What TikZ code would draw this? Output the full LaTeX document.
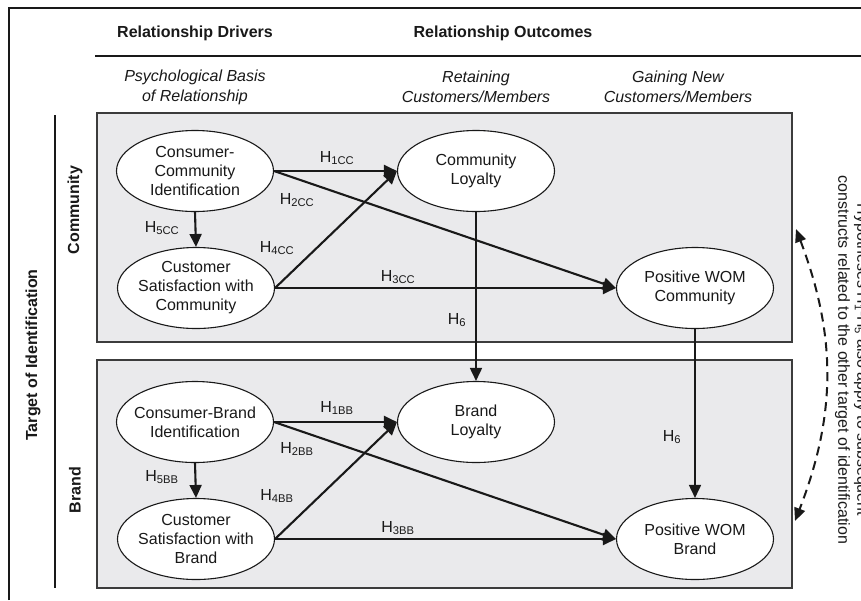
\documentclass[tikz,border=0pt]{standalone}
\usepackage{fontspec}
\setmainfont{Liberation Sans}
\usetikzlibrary{arrows.meta,shapes.geometric}
\definecolor{boxgray}{RGB}{234,234,236}
\definecolor{ink}{RGB}{25,25,25}
\begin{document}
\begin{tikzpicture}[x=1pt,y=-1pt,
  txt/.style={font=\fontsize{16}{19}\selectfont, inner sep=0pt, text=ink},
  head/.style={font=\fontsize{16}{19}\selectfont\bfseries, inner sep=0pt, text=ink},
  colhead/.style={font=\fontsize{16}{20}\selectfont\itshape, inner sep=0pt, text=ink, align=center},
  panel/.style={draw=ink!85, line width=1.4pt, fill=boxgray},
  construct/.style={ellipse, draw=ink, line width=1.1pt, fill=white, minimum width=157pt, minimum height=81pt, inner xsep=-10pt, inner ysep=0pt, align=center, font=\fontsize{16}{19}\selectfont, text=ink},
  hyp/.style={draw=ink, line width=2.1pt, -{Triangle[length=13pt,width=12pt]}},
  link/.style={draw=ink, line width=1.7pt, -{Triangle[length=13pt,width=12pt]}},
  hlab/.style={font=\fontsize{16}{19}\selectfont, inner sep=0pt, text=ink},
  rule/.style={draw=ink, line width=1.3pt}
]
\useasboundingbox (0,0) rectangle (861,600);
\fill[white] (0,0) rectangle (861,600);

% outer frame
\coordinate (fbl) at (9,600);
\coordinate (ftl) at (9,8);
\coordinate (ftr) at (861,8);
\draw[rule] (fbl) -- (ftl) -- (ftr);

% headers
\node[head] (drv) at (195,33) {Relationship Drivers};
\node[head] (out) at (503,33) {Relationship Outcomes};
\coordinate (hl) at (95,56);
\coordinate (hr) at (861,56);
\draw[rule] (hl) -- (hr);
\node[colhead] (psy) at (195,87) {Psychological Basis\\of Relationship};
\node[colhead] (ret) at (476,87) {Retaining\\Customers/Members};
\node[colhead] (gain) at (678,87) {Gaining New\\Customers/Members};

% left labels
\coordinate (lt) at (55,115);
\coordinate (lb) at (55,588);
\draw[rule] (lt) -- (lb);
\node[head, rotate=90] (tgt) at (33,355) {Target of Identification};
\node[head, rotate=90] (lcom) at (75,210) {Community};
\node[head, rotate=90] (lbr) at (75,490) {Brand};

% panels
\draw[panel] (97,113) rectangle (792,342);
\draw[panel] (97,360) rectangle (792,588);

% constructs
\node[construct] (cci) at (195,171) {Consumer-\\Community\\Identification};
\node[construct] (csc) at (196,288) {Customer\\Satisfaction with\\Community};
\node[construct] (cl) at (476,171) {Community\\Loyalty};
\node[construct] (pwc) at (695,288) {Positive WOM\\Community};
\node[construct] (cbi) at (195,422) {Consumer-Brand\\Identification};
\node[construct] (csb) at (196,539) {Customer\\Satisfaction with\\Brand};
\node[construct] (bl) at (476,422) {Brand\\Loyalty};
\node[construct] (pwb) at (695,539) {Positive WOM\\Brand};

% hypotheses, community
\draw[hyp] (cci.east) -- (cl.west);
\draw[hyp] (cci.east) -- (pwc.west);
\draw[hyp] (csc.east) -- (cl.west);
\draw[hyp] (csc.east) -- (pwc.west);
\draw[hyp] (cci.south) -- (csc.north);
% hypotheses, brand
\draw[hyp] (cbi.east) -- (bl.west);
\draw[hyp] (cbi.east) -- (pwb.west);
\draw[hyp] (csb.east) -- (bl.west);
\draw[hyp] (csb.east) -- (pwb.west);
\draw[hyp] (cbi.south) -- (csb.north);
% H6
\draw[link] (cl.south) -- (bl.north);
\draw[link] (pwc.south) -- (pwb.north);

% labels
\node[hlab] (l1cc) at (337,158) {H\textsubscript{1CC}};
\node[hlab] (l2cc) at (297,200) {H\textsubscript{2CC}};
\node[hlab] (l5cc) at (162,228) {H\textsubscript{5CC}};
\node[hlab] (l4cc) at (277,248) {H\textsubscript{4CC}};
\node[hlab] (l3cc) at (398,277) {H\textsubscript{3CC}};
\node[hlab] (l6a) at (457,320) {H\textsubscript{6}};
\node[hlab] (l1bb) at (337,408) {H\textsubscript{1BB}};
\node[hlab] (l2bb) at (297,449) {H\textsubscript{2BB}};
\node[hlab] (l5bb) at (162,477) {H\textsubscript{5BB}};
\node[hlab] (l4bb) at (277,496) {H\textsubscript{4BB}};
\node[hlab] (l3bb) at (398,528) {H\textsubscript{3BB}};
\node[hlab] (l6b) at (672,437) {H\textsubscript{6}};

% dashed double arrow and note
\coordinate (dt) at (796,229);
\coordinate (db) at (795,521);
\draw[draw=ink, line width=2pt, dash pattern=on 9pt off 6pt, {Triangle[length=13pt,width=11pt]}-{Triangle[length=13pt,width=11pt]}] (dt) to[bend left=21] (db);
\node[txt, rotate=-90, align=center] (note) at (852,360) {Hypotheses H\textsubscript{1}-H\textsubscript{5} also apply to subsequent\\constructs related to the other target of identification};
\end{tikzpicture}
\end{document}
